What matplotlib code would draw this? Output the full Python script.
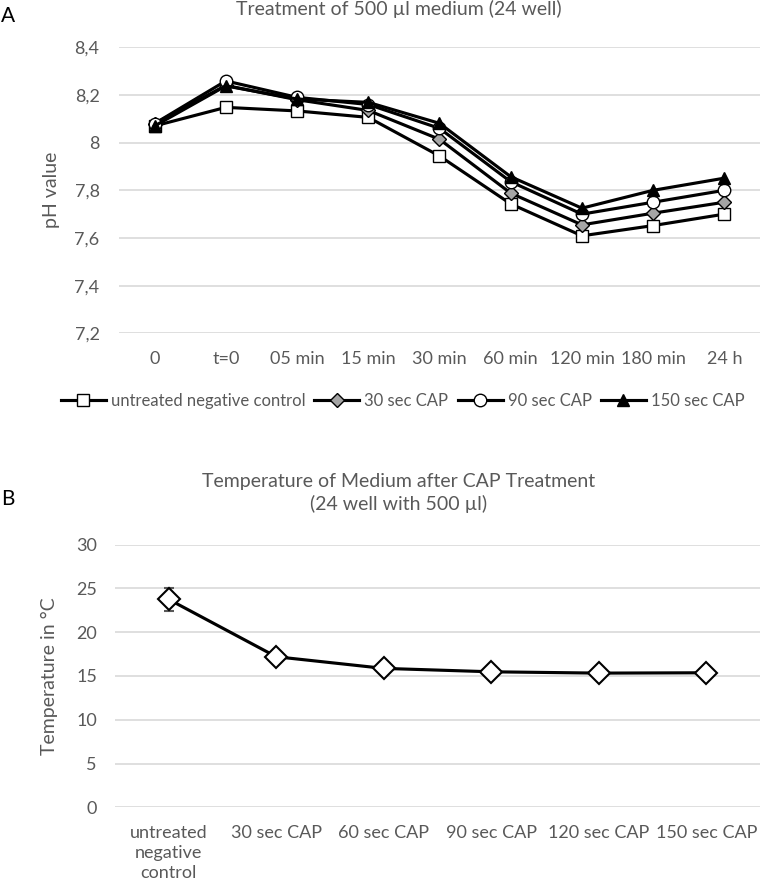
import numpy as np
import matplotlib.pyplot as plt

# pH data (panel A)
ph_times = ['0', 't=0', '05 min', '15 min', '30 min', '60 min', '120 min', '180 min', '24 h']
ph_untreated = [8.07, 8.148, 8.133, 8.106, 7.944, 7.743, 7.609, 7.652, 7.70]
ph_30sec = [8.08, 8.24, 8.18, 8.135, 8.014, 7.788, 7.655, 7.704, 7.75]
ph_90sec = [8.08, 8.259, 8.19, 8.16, 8.06, 7.836, 7.70, 7.75, 7.80]
ph_150sec = [8.07, 8.238, 8.183, 8.169, 8.081, 7.857, 7.725, 7.80, 7.851]
ph_ticks = [7.2, 7.4, 7.6, 7.8, 8.0, 8.2, 8.4]
ph_ticklabels = ['7,2', '7,4', '7,6', '7,8', '8', '8,2', '8,4']

# temperature data (panel B)
temp_groups = ['untreated\nnegative\ncontrol', '30 sec CAP', '60 sec CAP', '90 sec CAP', '120 sec CAP', '150 sec CAP']
temp_values = [23.75, 17.2, 15.87, 15.48, 15.33, 15.37]
temp_err = [1.3, 0.2, 0.2, 0.2, 0.2, 0.2]

plt.rcParams['font.family'] = ['Lato', 'DejaVu Sans']
grey = '#595959'
gridc = '#d9d9d9'
W, H = 760, 886

fig = plt.figure(figsize=(7.6, 8.86), dpi=100)

def fx(px):
    return px / W

def fy(py):
    return 1 - py / H

def style(ax):
    for s in ax.spines.values():
        s.set_visible(False)
    ax.tick_params(length=0, colors=grey, labelsize=13)
    ax.grid(axis='y', color=gridc, lw=1.2)
    ax.set_axisbelow(True)

# ---- panel A
axA = fig.add_axes([fx(119), fy(333.3), fx(760 - 119), (333.3 - 47.3) / H])
x = np.arange(len(ph_times))
series = [
    (ph_untreated, 's', 'white', 8, 'untreated negative control'),
    (ph_30sec, 'D', '#a5a5a5', 7, '30 sec CAP'),
    (ph_90sec, 'o', 'white', 9, '90 sec CAP'),
    (ph_150sec, '^', 'black', 9, '150 sec CAP'),
]
for vals, mk, fc, ms, lab in series:
    axA.plot(x, vals, color='black', lw=2.25, marker=mk, markerfacecolor=fc,
             markeredgecolor='black', markeredgewidth=1, markersize=ms, label=lab)
axA.set_xlim(-0.5, len(ph_times) - 0.5)
axA.set_ylim(7.2, 8.4)
axA.set_xticks(x)
axA.set_xticklabels(ph_times)
axA.set_yticks(ph_ticks)
axA.set_yticklabels(ph_ticklabels)
style(axA)
axA.tick_params(axis='y', pad=14)
axA.tick_params(axis='x', pad=13)
axA.set_ylabel('pH value', color=grey, fontsize=14)
axA.yaxis.set_label_coords(-0.092, 0.5)

fig.text(fx(399), fy(15), 'Treatment of 500 µl medium (24 well)', ha='center',
         va='baseline', color=grey, fontsize=14)
fig.text(fx(1), fy(22), 'A', ha='left', va='baseline', color='black', fontsize=15)

handles, labels = axA.get_legend_handles_labels()
fig.legend(handles, labels, loc='center', bbox_to_anchor=(fx(402.5), fy(401)), ncol=4,
           frameon=False, fontsize=12, handlelength=2.7, handletextpad=0.3,
           columnspacing=0.55, labelcolor=grey)

# ---- panel B
axB = fig.add_axes([fx(115), fy(807.3), fx(760 - 115), (807.3 - 544.7) / H])
xb = np.arange(len(temp_groups))
axB.errorbar(xb, temp_values, yerr=temp_err, color='black', lw=2.25, marker='D',
             markerfacecolor='white', markeredgecolor='black', markeredgewidth=1.5,
             markersize=11, ecolor='#595959', elinewidth=1, capsize=3.5, zorder=3)
axB.set_xlim(-0.5, len(temp_groups) - 0.5)
axB.set_ylim(0, 30)
axB.set_yticks(np.arange(0, 31, 5))
axB.set_xticks(xb)
axB.set_xticklabels(temp_groups, linespacing=1.3)
style(axB)
axB.tick_params(axis='y', pad=13)
axB.tick_params(axis='x', pad=13)
axB.set_ylabel('Temperature in °C', color=grey, fontsize=14)
axB.yaxis.set_label_coords(-0.088, 0.5)

fig.text(fx(398.5), fy(486.7), 'Temperature of Medium after CAP Treatment', ha='center',
         va='baseline', color=grey, fontsize=14)
fig.text(fx(398.5), fy(510), '(24 well with 500 µl)', ha='center',
         va='baseline', color=grey, fontsize=14)
fig.text(fx(1), fy(505), 'B', ha='left', va='baseline', color='black', fontsize=15)

fig.savefig('out.png', dpi=100)
